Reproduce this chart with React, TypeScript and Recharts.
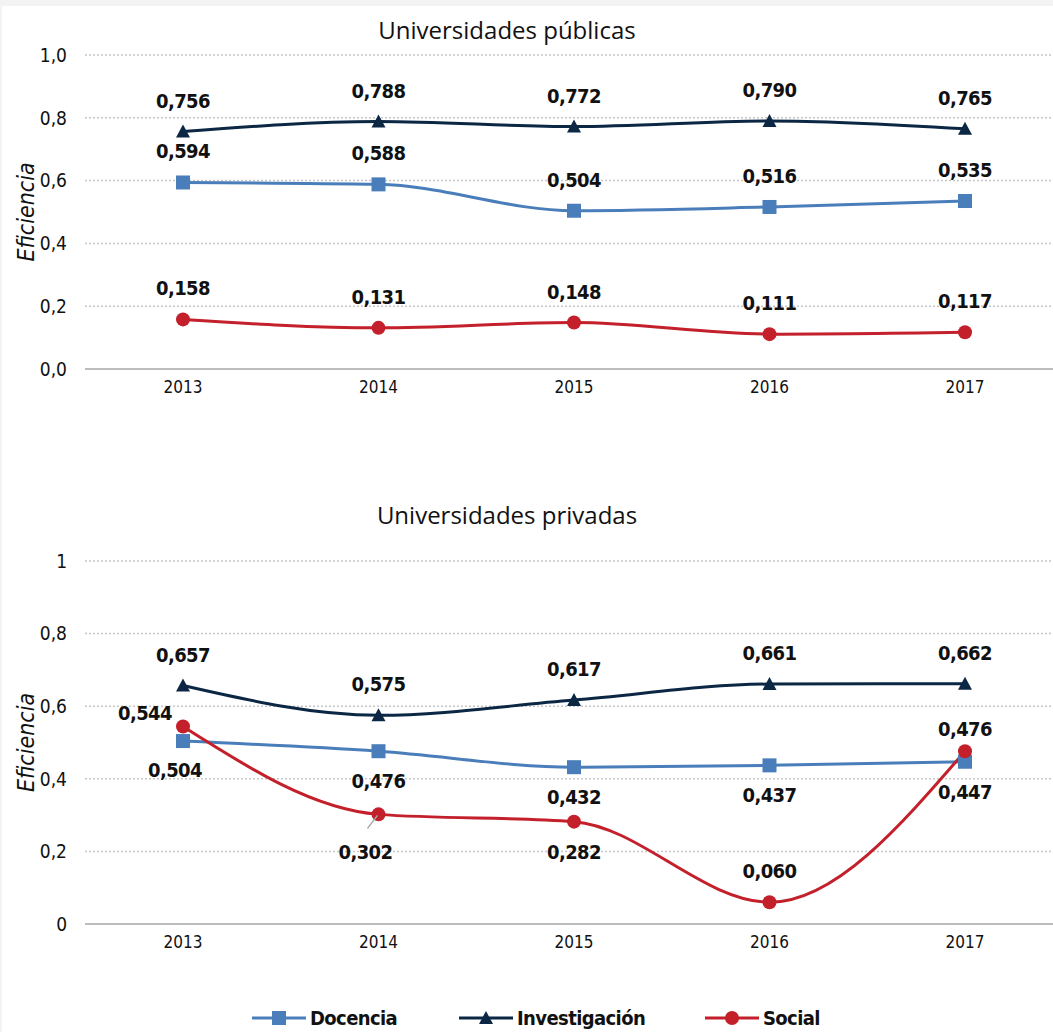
import React from 'react';
import { LineChart, Line, XAxis, YAxis, CartesianGrid } from 'recharts';

const years = ['2013', '2014', '2015', '2016', '2017'];

// Universidades públicas
const docenciaPub = [0.594, 0.588, 0.504, 0.516, 0.535];
const investigacionPub = [0.756, 0.788, 0.772, 0.79, 0.765];
const socialPub = [0.158, 0.131, 0.148, 0.111, 0.117];

// Universidades privadas
const docenciaPriv = [0.504, 0.476, 0.432, 0.437, 0.447];
const investigacionPriv = [0.657, 0.575, 0.617, 0.661, 0.662];
const socialPriv = [0.544, 0.302, 0.282, 0.06, 0.476];

const yTicks = [0, 0.2, 0.4, 0.6, 0.8, 1];

// where each value label sits relative to its point
const docPrivPlace = ['belowLeft', 'below', 'below', 'below', 'below'];
const socPrivPlace = ['left', 'leader', 'below', 'above', 'aboveNear'];

const BLUE = '#4a7ebb';
const NAVY = '#0b2744';
const RED = '#c3202b';
const FONT = '"Liberation Sans Narrow", "DejaVu Sans Condensed", "Noto Sans", sans-serif';

const pubData = years.map((y, i) => ({
  year: y,
  docencia: docenciaPub[i],
  investigacion: investigacionPub[i],
  social: socialPub[i],
}));

const privData = years.map((y, i) => ({
  year: y,
  docencia: docenciaPriv[i],
  investigacion: investigacionPriv[i],
  social: socialPriv[i],
}));

const fmt3 = (v: number) => v.toFixed(3).replace('.', ',');

const placeOffset = (place: string) => {
  switch (place) {
    case 'below': return [0, 30];
    case 'belowLeft': return [-8, 29];
    case 'left': return [-38, -14];
    case 'leader': return [-13, 38];
    case 'aboveNear': return [0, -22];
    case 'above':
    default: return [0, -31];
  }
};

const makeLabel = (places?: string[]) => (props: any) => {
  const { x, y, value, index } = props;
  const place = places ? places[index] : 'above';
  const [dx, dy] = placeOffset(place);
  return (
    <g>
      {place === 'leader' && (
        <line x1={x - 11} y1={y + 14} x2={x - 1} y2={y + 1} stroke="#a6a6a6" strokeWidth={1.5} />
      )}
      <text
        x={x + dx}
        y={y + dy}
        textAnchor="middle"
        dominantBaseline="central"
        fontFamily={FONT}
        fontWeight="bold"
        fontSize={20}
        letterSpacing={-0.6}
        fill="#111"
      >
        {fmt3(value)}
      </text>
    </g>
  );
};

const SquareDot = (props: any) => {
  const { cx, cy } = props;
  if (cx == null || cy == null) return null;
  return <rect x={cx - 7} y={cy - 7} width={14} height={14} fill={BLUE} />;
};

const TriangleDot = (props: any) => {
  const { cx, cy } = props;
  if (cx == null || cy == null) return null;
  return <polygon points={`${cx - 7},${cy + 6} ${cx + 7},${cy + 6} ${cx},${cy - 7}`} fill={NAVY} />;
};

const CircleDot = (props: any) => {
  const { cx, cy } = props;
  if (cx == null || cy == null) return null;
  return <circle cx={cx} cy={cy} r={7} fill={RED} />;
};

const yLabel = (props: any) => {
  const vb = props.viewBox;
  const cx = 26;
  const cy = vb.y + vb.height / 2;
  return (
    <text
      x={cx}
      y={cy}
      transform={`rotate(-90, ${cx}, ${cy})`}
      textAnchor="middle"
      dominantBaseline="central"
      fontFamily={FONT}
      fontStyle="italic"
      fontSize={23}
      fill="#111"
    >
      Eficiencia
    </text>
  );
};

interface PanelProps {
  data: any[];
  top: number;
  height: number;
  marginTop: number;
  marginBottom: number;
  tickFmt: (v: number) => string;
  docPlaces?: string[];
  socPlaces?: string[];
}

const Panel: React.FC<PanelProps> = ({ data, top, height, marginTop, marginBottom, tickFmt, docPlaces, socPlaces }) => (
  <div style={{ position: 'absolute', left: 0, top }}>
    <LineChart width={1080} height={height} data={data} margin={{ top: marginTop, right: 17, left: 40, bottom: marginBottom }}>
      <CartesianGrid vertical={false} stroke="#c6c6c6" strokeDasharray="2 2" strokeWidth={1.5} />
      <XAxis
        dataKey="year"
        padding={{ left: 98, right: 98 }}
        axisLine={{ stroke: '#bdbdbd', strokeWidth: 2 }}
        tickLine={false}
        height={30}
        tick={{ fontFamily: FONT, fontSize: 17, fill: '#111' }}
        tickMargin={6}
      />
      <YAxis
        domain={[0, 1]}
        ticks={yTicks}
        width={45}
        axisLine={false}
        tickLine={false}
        tickMargin={12}
        tickFormatter={tickFmt}
        tick={{ fontFamily: FONT, fontSize: 19, fill: '#111' }}
        label={yLabel}
      />
      <Line
        type="monotone"
        dataKey="docencia"
        stroke={BLUE}
        strokeWidth={3}
        dot={<SquareDot />}
        activeDot={false}
        isAnimationActive={false}
        label={makeLabel(docPlaces)}
      />
      <Line
        type="monotone"
        dataKey="investigacion"
        stroke={NAVY}
        strokeWidth={3}
        dot={<TriangleDot />}
        activeDot={false}
        isAnimationActive={false}
        label={makeLabel()}
      />
      <Line
        type="monotone"
        dataKey="social"
        stroke={RED}
        strokeWidth={3}
        dot={<CircleDot />}
        activeDot={false}
        isAnimationActive={false}
        label={makeLabel(socPlaces)}
      />
    </LineChart>
  </div>
);

const titleStyle: React.CSSProperties = {
  position: 'absolute',
  left: 307,
  width: 400,
  textAlign: 'center',
  fontFamily: '"Open Sans", "Noto Sans", sans-serif',
  fontSize: 24,
  color: '#111',
  lineHeight: '28px',
};

const legendItems = [
  { name: 'Docencia', color: BLUE, marker: 'square' },
  { name: 'Investigación', color: NAVY, marker: 'triangle' },
  { name: 'Social', color: RED, marker: 'circle' },
];
const legendLeft = [252, 459, 705];

const LegendIcon = ({ color, marker }: { color: string; marker: string }) => (
  <svg width={54} height={20} style={{ display: 'block' }}>
    <line x1={0} y1={10} x2={54} y2={10} stroke={color} strokeWidth={3} />
    {marker === 'square' && <rect x={20} y={3} width={14} height={14} fill={color} />}
    {marker === 'triangle' && <polygon points="20,16 34,16 27,3" fill={color} />}
    {marker === 'circle' && <circle cx={27} cy={10} r={7} fill={color} />}
  </svg>
);

export default function App() {
  return (
    <div style={{ position: 'absolute', left: 0, top: 0, width: 1053, height: 1032, overflow: 'hidden', background: '#f3f3f3' }}>
      <div style={{ position: 'absolute', left: 2, top: 6, right: 0, bottom: 0, background: '#fff' }} />
      <div style={{ ...titleStyle, top: 16 }}>Universidades públicas</div>
      <Panel
        data={pubData}
        top={0}
        height={420}
        marginTop={55}
        marginBottom={21}
        tickFmt={(v) => v.toFixed(1).replace('.', ',')}
      />
      <div style={{ ...titleStyle, top: 501 }}>Universidades privadas</div>
      <Panel
        data={privData}
        top={500}
        height={480}
        marginTop={61}
        marginBottom={26}
        tickFmt={(v) => String(Math.round(v * 10) / 10).replace('.', ',')}
        docPlaces={docPrivPlace}
        socPlaces={socPrivPlace}
      />
      {legendItems.map((it, i) => (
        <div
          key={it.name}
          style={{ position: 'absolute', left: legendLeft[i], top: 1006, display: 'flex', alignItems: 'center', gap: 4 }}
        >
          <LegendIcon color={it.color} marker={it.marker} />
          <span style={{ fontFamily: FONT, fontWeight: 'bold', fontSize: 20, letterSpacing: -0.6, color: '#111', lineHeight: '24px' }}>{it.name}</span>
        </div>
      ))}
    </div>
  );
}
